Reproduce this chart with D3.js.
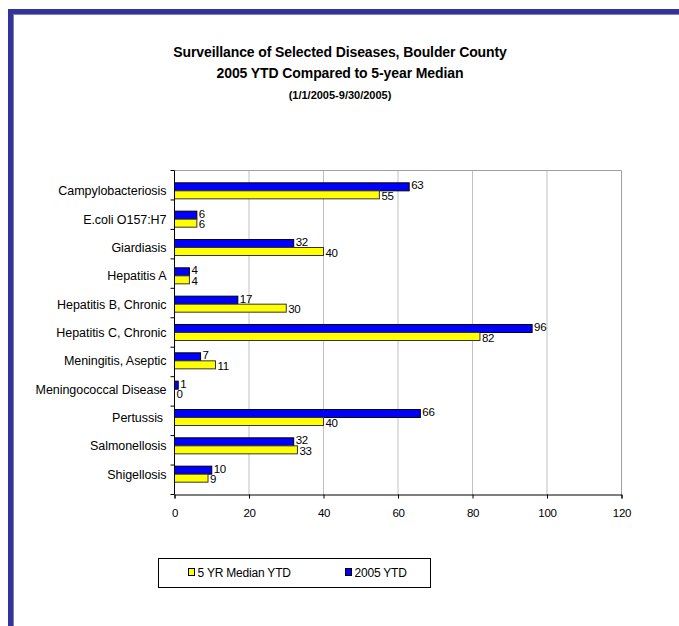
<!DOCTYPE html>
<html>
<head>
<meta charset="utf-8">
<script src="https://cdn.jsdelivr.net/npm/d3@7"></script>
<style>
    body { margin: 0; background: #fff; }
    text { font-family: Arial, "Liberation Sans", sans-serif; fill: #000; }
</style>
</head>
<body>
<div id="chart"></div>
<script>
// categories, top to bottom
let categories = ['Campylobacteriosis', 'E.coli O157:H7', 'Giardiasis', 'Hepatitis A',
    'Hepatitis B, Chronic', 'Hepatitis C, Chronic', 'Meningitis, Aseptic',
    'Meningococcal Disease', 'Pertussis ', 'Salmonellosis', 'Shigellosis'];
// 2005 YTD (blue)
let ytd2005 = [63, 6, 32, 4, 17, 96, 7, 1, 66, 32, 10];
// 5 YR Median YTD (yellow)
let median5yr = [55, 6, 40, 4, 30, 82, 11, 0, 40, 33, 9];
let xTicks = [0, 20, 40, 60, 80, 100, 120];
let titleLines = ['Surveillance of Selected Diseases, Boulder County',
    '2005 YTD Compared to 5-year Median', '(1/1/2005-9/30/2005)'];
let legendNames = ['5 YR Median YTD', '2005 YTD'];

let W = 679, H = 626;
let svg = d3.select('#chart').append('svg').attr('width', W).attr('height', H);

// blue frame on top and left
svg.append('rect').attr('x', 8).attr('y', 9).attr('width', W - 8).attr('height', 6).attr('fill', '#333399');
svg.append('rect').attr('x', 8).attr('y', 9).attr('width', 6).attr('height', H - 9).attr('fill', '#333399');
svg.append('rect').attr('x', 13).attr('y', 14).attr('width', W - 13).attr('height', 1).attr('fill', '#8080c0');
svg.append('rect').attr('x', 13).attr('y', 14).attr('width', 1).attr('height', H - 14).attr('fill', '#8080c0');

// title
let title = svg.append('g').attr('text-anchor', 'middle').attr('font-weight', 'bold');
title.append('text').attr('x', 340).attr('y', 57).attr('font-size', 14).attr('letter-spacing', -0.1).text(titleLines[0]);
title.append('text').attr('x', 340).attr('y', 78).attr('font-size', 14).attr('letter-spacing', -0.1).text(titleLines[1]);
title.append('text').attr('x', 340).attr('y', 99).attr('font-size', 11).text(titleLines[2]);

// plot area
let pLeft = 174.5, pRight = 621.5, pTop = 170.5, pBottom = 494.5;
let xScale = d3.scaleLinear().domain([0, 120]).range([pLeft, pRight]);
let yScale = d3.scaleBand().domain(categories).range([pTop, pBottom]).padding(0.435);
let bw = yScale.bandwidth() / 2;

// gridlines
svg.append('g').selectAll('line').data(xTicks.slice(1, -1)).enter().append('line')
    .attr('x1', d => xScale(d)).attr('x2', d => xScale(d))
    .attr('y1', pTop).attr('y2', pBottom)
    .attr('stroke', '#c0c0c0').attr('stroke-width', 1);
// plot border top/right
svg.append('path').attr('d', 'M' + pLeft + ',' + pTop + 'H' + pRight + 'V' + pBottom)
    .attr('fill', 'none').attr('stroke', '#a0a0a0');

// bars
let g = svg.append('g');
let rows = categories.map((c, i) => ({cat: c, ytd: ytd2005[i], med: median5yr[i]}));
g.selectAll('rect.ytd').data(rows).enter().append('rect').attr('class', 'ytd')
    .attr('x', xScale(0)).attr('y', d => yScale(d.cat))
    .attr('width', d => xScale(d.ytd) - xScale(0)).attr('height', bw)
    .attr('fill', '#0000ff').attr('stroke', '#000').attr('stroke-width', 1);
g.selectAll('rect.med').data(rows).enter().append('rect').attr('class', 'med')
    .attr('x', xScale(0)).attr('y', d => yScale(d.cat) + bw)
    .attr('width', d => xScale(d.med) - xScale(0)).attr('height', bw)
    .attr('fill', '#ffff00').attr('stroke', '#333').attr('stroke-width', 1);

// value labels
g.selectAll('text.ytd').data(rows).enter().append('text').attr('class', 'ytd')
    .attr('x', d => xScale(d.ytd) + 2).attr('y', d => yScale(d.cat) + bw / 2 - 1.5)
    .attr('dy', '0.35em').attr('font-size', 11.5).attr('letter-spacing', -0.3).text(d => d.ytd);
g.selectAll('text.med').data(rows).enter().append('text').attr('class', 'med')
    .attr('x', d => xScale(d.med) + 2).attr('y', d => yScale(d.cat) + bw * 1.5 + 1)
    .attr('dy', '0.35em').attr('font-size', 11.5).attr('letter-spacing', -0.3).text(d => d.med);

// x axis
let xAxis = svg.append('g').attr('transform', 'translate(0,' + pBottom + ')')
    .call(d3.axisBottom(xScale).tickValues(xTicks).tickSize(4).tickPadding(10));
xAxis.select('.domain').attr('stroke', '#000');
xAxis.selectAll('text').attr('font-size', 11.5).attr('letter-spacing', -0.3)
    .attr('font-family', 'Arial, "Liberation Sans", sans-serif');

// y axis: ticks sit between the categories
let yAxis = svg.append('g').attr('transform', 'translate(' + pLeft + ',0)');
yAxis.append('line').attr('x1', 0).attr('x2', 0).attr('y1', pTop).attr('y2', pBottom).attr('stroke', '#000');
let bounds = d3.range(categories.length + 1).map(i => pTop + i * (pBottom - pTop) / categories.length);
yAxis.selectAll('line.tick').data(bounds).enter().append('line').attr('class', 'tick')
    .attr('x1', -4).attr('x2', 0).attr('y1', d => d).attr('y2', d => d).attr('stroke', '#000');
yAxis.selectAll('text').data(categories).enter().append('text')
    .attr('x', -8).attr('y', d => yScale(d) + bw).attr('dy', '0.35em')
    .attr('text-anchor', 'end').attr('font-size', 12.5).attr('letter-spacing', -0.05)
    .style('white-space', 'pre').text(d => d);

// legend
let lg = svg.append('g');
lg.append('rect').attr('x', 158.5).attr('y', 558.5).attr('width', 272).attr('height', 29)
    .attr('fill', '#fff').attr('stroke', '#000');
let legendColors = ['#ffff00', '#0000ff'];
let legendX = [188.5, 345.5];
legendNames.forEach((n, i) => {
    lg.append('rect').attr('x', legendX[i]).attr('y', 568.5).attr('width', 6).attr('height', 7)
        .attr('fill', legendColors[i]).attr('stroke', '#000');
    lg.append('text').attr('x', legendX[i] + 9).attr('y', 573).attr('dy', '0.35em')
        .attr('font-size', 12).attr('letter-spacing', -0.2).text(n);
});
</script>
</body>
</html>
